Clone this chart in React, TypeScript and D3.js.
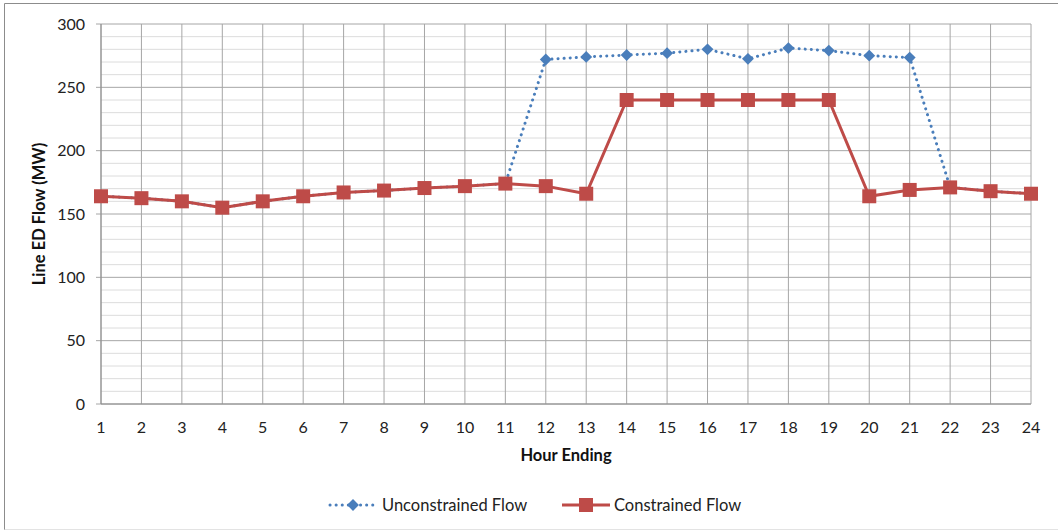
import React from "react";
import * as d3 from "d3";

const hours = [1,2,3,4,5,6,7,8,9,10,11,12,13,14,15,16,17,18,19,20,21,22,23,24];
const constrained = [164,162.5,160,155,160,164,167,168.5,170.5,172,174,172,166,240,240,240,240,240,240,164,169,171,168,166];
const unconstrained = [164,162.5,160,155,160,164,167,168.5,170.5,172,174,272,274,275.5,277,280,272.5,281,279,275,273.5,171,168,166];
const yTicks = [0,50,100,150,200,250,300];
const minorTicks = d3.range(0, 301, 10);

const W = 1058, H = 531;
const m = { left: 101, right: 1031, top: 24, bottom: 404 };
const FONT = "Lato, 'Open Sans', sans-serif";

export default function App() {
  const x = d3.scalePoint<number>().domain(hours).range([m.left, m.right]);
  const y = d3.scaleLinear().domain([0, 300]).range([m.bottom, m.top]);
  const line = d3.line<number>().x((_, i) => x(hours[i])!).y(d => y(d));
  const diamond = d3.symbol().type(d3.symbolDiamond2).size(90)();
  const blue = "#4a7ebb";
  const red = "#be4b48";
  return (
    <svg width={W} height={H} style={{ position: "absolute", left: 0, top: 0, background: "#fff" }} fontFamily={FONT}>
      <line x1={4.5} x2={1058} y1={3.5} y2={3.5} stroke="#8c8c8c" />
      <line x1={4.5} x2={4.5} y1={3.5} y2={530} stroke="#8c8c8c" />
      <line x1={4.5} x2={1058} y1={529.5} y2={529.5} stroke="#e3e3e3" />
      {minorTicks.filter(t => t % 50 !== 0).map(t => (
        <line key={"m" + t} x1={m.left} x2={m.right} y1={y(t)} y2={y(t)} stroke="#dcdcdc" strokeWidth={1} />
      ))}
      {yTicks.map(t => (
        <line key={"g" + t} x1={m.left - 5} x2={m.right} y1={y(t)} y2={y(t)} stroke="#a6a6a6" strokeWidth={1} />
      ))}
      {hours.map(h => (
        <line key={"v" + h} x1={x(h)} x2={x(h)} y1={m.top} y2={m.bottom} stroke="#a6a6a6" strokeWidth={1} />
      ))}
      <line x1={m.left} x2={m.left} y1={m.top} y2={m.bottom} stroke="#8c8c8c" />
      <line x1={m.left} x2={m.right} y1={m.bottom} y2={m.bottom} stroke="#8c8c8c" />
      {yTicks.map(t => (
        <text key={"yl" + t} x={85} y={y(t)} dy="0.35em" textAnchor="end" fontSize={16} fill="#222">{t}</text>
      ))}
      {hours.map(h => (
        <text key={"xl" + h} x={x(h)} y={433} textAnchor="middle" fontSize={16} fill="#222">{h}</text>
      ))}
      <text x={566} y={461} textAnchor="middle" fontSize={16.5} fontWeight="bold" fill="#111">Hour Ending</text>
      <text transform={`translate(45,${(m.top + m.bottom) / 2}) rotate(-90)`} textAnchor="middle" fontSize={16.5} fontWeight="bold" fill="#111">Line ED Flow (MW)</text>

      <path d={line(unconstrained)!} fill="none" stroke={blue} strokeWidth={3} strokeDasharray="0.1 6" strokeLinecap="round" />
      {unconstrained.map((v, i) => (
        <path key={"d" + i} d={diamond!} transform={`translate(${x(hours[i])},${y(v)})`} fill={blue} />
      ))}
      <path d={line(constrained)!} fill="none" stroke={red} strokeWidth={3} />
      {constrained.map((v, i) => (
        <rect key={"s" + i} x={x(hours[i])! - 7} y={y(v) - 7} width={14} height={14} fill={red} />
      ))}

      <g transform="translate(0,505)">
        <line x1={330} x2={377} y1={0} y2={0} stroke={blue} strokeWidth={3} strokeDasharray="0.1 6" strokeLinecap="round" />
        <path d={diamond!} transform="translate(353,0)" fill={blue} />
        <text x={382} y={0} dy="0.35em" fontSize={16.5} fill="#222">Unconstrained Flow</text>
        <line x1={562} x2={610} y1={0} y2={0} stroke={red} strokeWidth={3} />
        <rect x={579} y={-7} width={14} height={14} fill={red} />
        <text x={614} y={0} dy="0.35em" fontSize={16.5} fill="#222">Constrained Flow</text>
      </g>
    </svg>
  );
}
